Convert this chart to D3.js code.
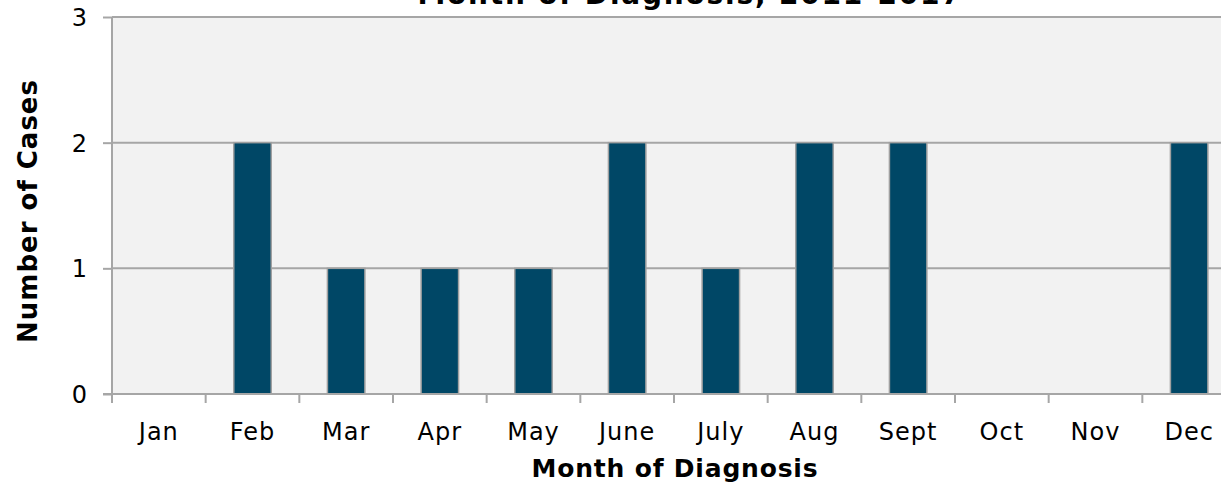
<!DOCTYPE html>
<html>
<head>
<meta charset="utf-8">
<script src="https://cdn.jsdelivr.net/npm/d3@7"></script>
<style>
  body { margin: 0; background: #fff; }
  text { font-family: Verdana, "DejaVu Sans", sans-serif; fill: #000; }
</style>
</head>
<body>
<div id="container"></div>
<script>
// chart data
var months = ["Jan", "Feb", "Mar", "Apr", "May", "June", "July", "Aug", "Sept", "Oct", "Nov", "Dec"];
var cases = [0, 2, 1, 1, 1, 2, 1, 2, 2, 0, 0, 2];
var yTicks = [0, 1, 2, 3];

var width = 1221, height = 482;
var margin = {top: 17, right: -15, bottom: 88, left: 112};
var plotW = width - margin.left - margin.right,
    plotH = height - margin.top - margin.bottom;

var svg = d3.select("#container").append("svg")
  .attr("width", width)
  .attr("height", height);

var g = svg.append("g")
  .attr("transform", "translate(" + margin.left + "," + margin.top + ")");

var x = d3.scaleBand().domain(months).range([0, plotW]).paddingInner(0.6).paddingOuter(0.3);
var y = d3.scaleLinear().domain([0, 3]).range([plotH, 0]);

// plot background
g.append("rect")
  .attr("width", plotW)
  .attr("height", plotH)
  .style("fill", "#f2f2f2");

// gridlines
g.selectAll(".grid")
  .data(yTicks.slice(1)).enter()
  .append("line")
    .attr("x1", 0).attr("x2", plotW)
    .attr("y1", function(d) { return y(d); })
    .attr("y2", function(d) { return y(d); })
    .style("stroke", "#a6a6a6")
    .style("stroke-width", 2);

// bars
g.selectAll(".bar")
  .data(cases).enter()
  .append("rect")
    .attr("class", "bar")
    .attr("x", function(d, i) { return x(months[i]); })
    .attr("width", x.bandwidth())
    .attr("y", function(d) { return y(d); })
    .attr("height", function(d) { return plotH - y(d); })
    .style("fill", "#004766")
    .style("stroke", "#a0a0a0")
    .style("stroke-width", 1.5);

// y axis
var yAxis = d3.axisLeft(y).tickValues(yTicks).tickFormat(d3.format("d")).tickSize(9).tickPadding(16);
var ya = g.append("g").call(yAxis);
ya.select(".domain").attr("d", "M0," + plotH + "V0").style("stroke", "#a6a6a6").style("stroke-width", 2);
ya.selectAll(".tick line").style("stroke", "#a6a6a6").style("stroke-width", 2);
ya.selectAll(".tick text").style("font-size", "24px").attr("dy", "0.36em");

// x axis: ticks sit on category boundaries
var step = x.step();
var bounds = d3.range(months.length + 1).map(function(i) { return i * step; });
var xa = g.append("g").attr("transform", "translate(0," + plotH + ")");
xa.append("line")
  .attr("x1", -9).attr("x2", plotW)
  .style("stroke", "#a6a6a6").style("stroke-width", 2);
xa.selectAll(".xt")
  .data(bounds).enter()
  .append("line")
    .attr("x1", function(d) { return d; }).attr("x2", function(d) { return d; })
    .attr("y1", 0).attr("y2", 9)
    .style("stroke", "#a6a6a6").style("stroke-width", 2);
xa.selectAll(".xl")
  .data(months).enter()
  .append("text")
    .attr("x", function(d) { return x(d) + x.bandwidth() / 2; })
    .attr("y", 46)
    .style("text-anchor", "middle")
    .style("font-size", "24px")
    .style("letter-spacing", "1px")
    .text(function(d) { return d; });

// titles
svg.append("text")
  .attr("x", 690).attr("y", 4)
  .style("text-anchor", "middle")
  .style("font-size", "28px")
  .style("font-weight", "bold")
  .style("letter-spacing", "1.8px")
  .text("Month of Diagnosis, 2011-2017");

svg.append("text")
  .attr("x", 675).attr("y", 477)
  .style("text-anchor", "middle")
  .style("font-size", "25px")
  .style("font-weight", "bold")
  .style("letter-spacing", "0.8px")
  .text("Month of Diagnosis");

svg.append("text")
  .attr("transform", "translate(37," + 211 + ") rotate(-90)")
  .style("text-anchor", "middle")
  .style("font-size", "26px")
  .style("font-weight", "bold")
  .style("letter-spacing", "1px")
  .text("Number of Cases");
</script>
</body>
</html>
